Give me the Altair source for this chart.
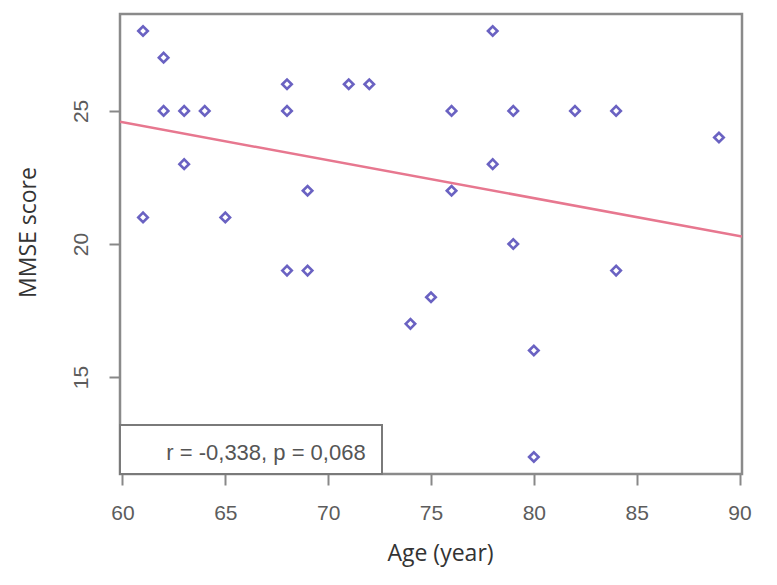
import altair as alt
import pandas as pd

# Data
ages = [61, 61, 62, 62, 63, 63, 64, 65, 68, 68, 68, 69, 69, 71, 72, 74, 75,
        76, 76, 78, 78, 79, 79, 80, 80, 82, 84, 84, 89]
mmse = [28, 21, 27, 25, 25, 23, 25, 21, 26, 25, 19, 22, 19, 26, 26, 17, 18,
        25, 22, 28, 23, 25, 20, 16, 12, 25, 25, 19, 24]
fit_age = [59.88, 90.12]
fit_mmse = [24.59, 20.28]
x_ticks = [60, 65, 70, 75, 80, 85, 90]
y_ticks = [15, 20, 25]
stat_label = "r = -0,338, p = 0,068"

df = pd.DataFrame({"age": ages, "mmse": mmse})
fit_df = pd.DataFrame({"age": fit_age, "mmse": fit_mmse})
lab_df = pd.DataFrame({"label": [stat_label]})

x_scale = alt.Scale(domain=[59.88, 90.12], nice=False, zero=False)
y_scale = alt.Scale(domain=[11.36, 28.64], nice=False, zero=False)

x_axis = alt.Axis(
    values=x_ticks, title="Age (year)", tickSize=11, tickWidth=2, tickColor="#888888",
    labelFont="Liberation Sans", labelFontSize=21, labelColor="#5c5c5c", labelPadding=17,
    titleFont="Open Sans", titleFontSize=23, titleColor="#333333", titleFontWeight="normal",
    titleX=320, titleY=79, titleAlign="center", titleBaseline="middle",
)
y_axis = alt.Axis(
    values=y_ticks, title="MMSE score", tickSize=11, tickWidth=2, tickColor="#888888",
    labelFont="Liberation Sans", labelFontSize=21, labelColor="#5c5c5c", labelPadding=22,
    labelAngle=-90, labelAlign="center", labelBaseline="alphabetic",
    titleFont="Open Sans", titleFontSize=23, titleColor="#333333", titleFontWeight="normal",
    titleX=-92, titleY=218, titleAlign="center", titleBaseline="middle", titleAngle=-90,
)

points = alt.Chart(df).mark_point(
    shape="diamond", filled=False, color="#6a62c2", strokeWidth=2.6, size=90, opacity=1
).encode(
    x=alt.X("age:Q", scale=x_scale, axis=x_axis),
    y=alt.Y("mmse:Q", scale=y_scale, axis=y_axis),
)

line = alt.Chart(fit_df).mark_line(color="#e7778f", strokeWidth=2.5, clip=True).encode(
    x=alt.X("age:Q", scale=x_scale, axis=x_axis),
    y=alt.Y("mmse:Q", scale=y_scale, axis=y_axis),
)

box = alt.Chart(lab_df).mark_rect(fill="white", stroke="#7a7a7a", strokeWidth=2).encode(
    x=alt.value(0), x2=alt.value(262), y=alt.value(411), y2=alt.value(460)
)
text = alt.Chart(lab_df).mark_text(
    font="Liberation Sans", fontSize=22, color="#555555", align="center", baseline="middle"
).encode(x=alt.value(146), y=alt.value(439), text="label:N")

chart = alt.layer(points, line, box, text).properties(
    width=622, height=460,
    autosize=alt.AutoSizeParams(type="none"),
    padding={"left": 112, "top": 6, "right": 27, "bottom": 103},
    background="white",
).configure_view(
    stroke="#8a8a8a", strokeWidth=2.5
).configure_axis(
    domain=False, grid=False
)

chart.save("out.html", embed_options={"renderer": "svg", "actions": False})
